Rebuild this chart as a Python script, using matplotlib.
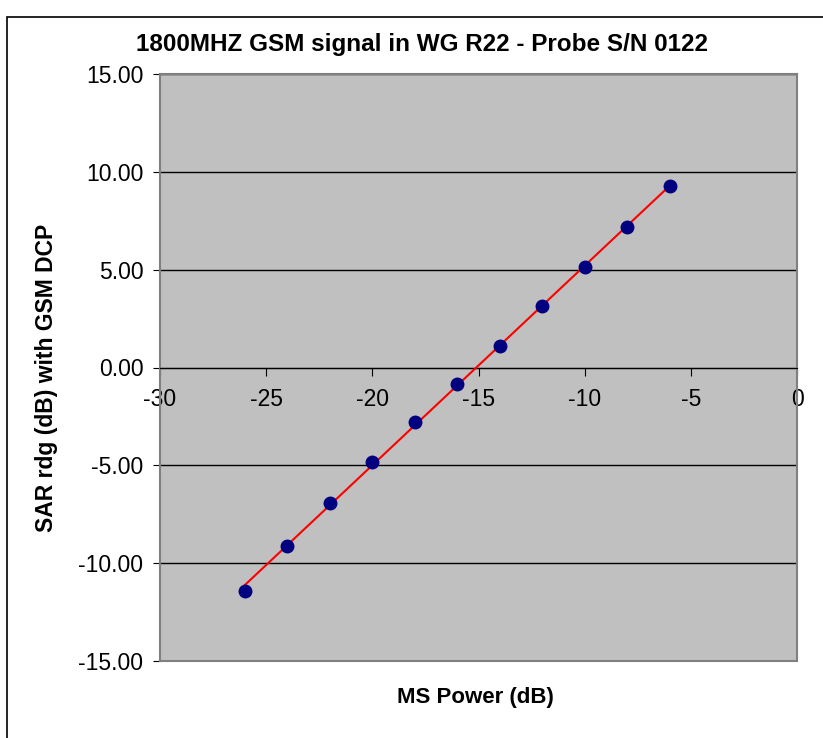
import numpy as np
import matplotlib.pyplot as plt
from matplotlib.patches import Rectangle

plt.rcParams['font.family'] = ['Liberation Sans', 'DejaVu Sans']

# data
ms_power = [-26, -24, -22, -20, -18, -16, -14, -12, -10, -8, -6]
sar_rdg = [-11.42, -9.11, -6.91, -4.81, -2.76, -0.82, 1.08, 3.12, 5.12, 7.17, 9.27]
y_ticks = [-15, -10, -5, 0, 5, 10, 15]
x_ticks = [-30, -25, -20, -15, -10, -5, 0]

fig = plt.figure(figsize=(8.23, 7.38), dpi=100)
# outer chart frame (right and bottom edges fall outside the picture)
fig.patches.append(Rectangle((7 / 823, -0.05), 1.0, 1.05 - 17 / 738, transform=fig.transFigure,
                             fill=False, edgecolor='black', linewidth=1.2))

ax = fig.add_axes([160 / 823, 1 - 661 / 738, 637 / 823, 587 / 738])
ax.set_facecolor('#c0c0c0')

# trend line (least squares through the points)
k, b = np.polyfit(ms_power, sar_rdg, 1)
xl = np.array([ms_power[0], ms_power[-1]])
ax.plot(xl, k * xl + b, color='red', linewidth=1.5, zorder=3)
ax.plot(ms_power, sar_rdg, 'o', color='#000080', markersize=9, zorder=4)

ax.set_xlim(-30, 0)
ax.set_ylim(-15, 15)
ax.set_yticks(y_ticks)
ax.set_yticklabels([f'{v:.2f}' for v in y_ticks])
ax.set_xticks(x_ticks)
ax.set_xticklabels([str(v) for v in x_ticks])
ax.yaxis.grid(True, color='black', linewidth=1)
ax.set_axisbelow(True)

for s in ['top', 'right', 'left']:
    ax.spines[s].set_color('#808080')
    ax.spines[s].set_linewidth(1.5)
# x axis through y=0
ax.spines['bottom'].set_position(('data', 0))
ax.spines['bottom'].set_color('black')
ax.tick_params(axis='x', direction='out', length=6, pad=9, color='black', labelsize=16.5)
ax.tick_params(axis='y', direction='out', length=5, pad=7, color='black', labelsize=16.5)

# keep a grey bottom border of the plot area
ax.plot([0, 1], [0, 0], transform=ax.transAxes, color='#808080', linewidth=1.5, clip_on=False)

fig.text(422 / 823, 1 - 44 / 738, '1800MHZ GSM signal in WG R22 - Probe S/N 0122', fontsize=17.5,
         fontweight='bold', ha='center', va='center')
fig.text(475 / 823, 1 - 698 / 738, 'MS Power (dB)', fontsize=16, fontweight='bold', ha='center', va='center')
fig.text(47 / 823, 1 - 378 / 738, 'SAR rdg (dB) with GSM DCP', fontsize=16.5, fontweight='bold',
         ha='center', va='center', rotation=90)

fig.savefig('out.png', dpi=100)
